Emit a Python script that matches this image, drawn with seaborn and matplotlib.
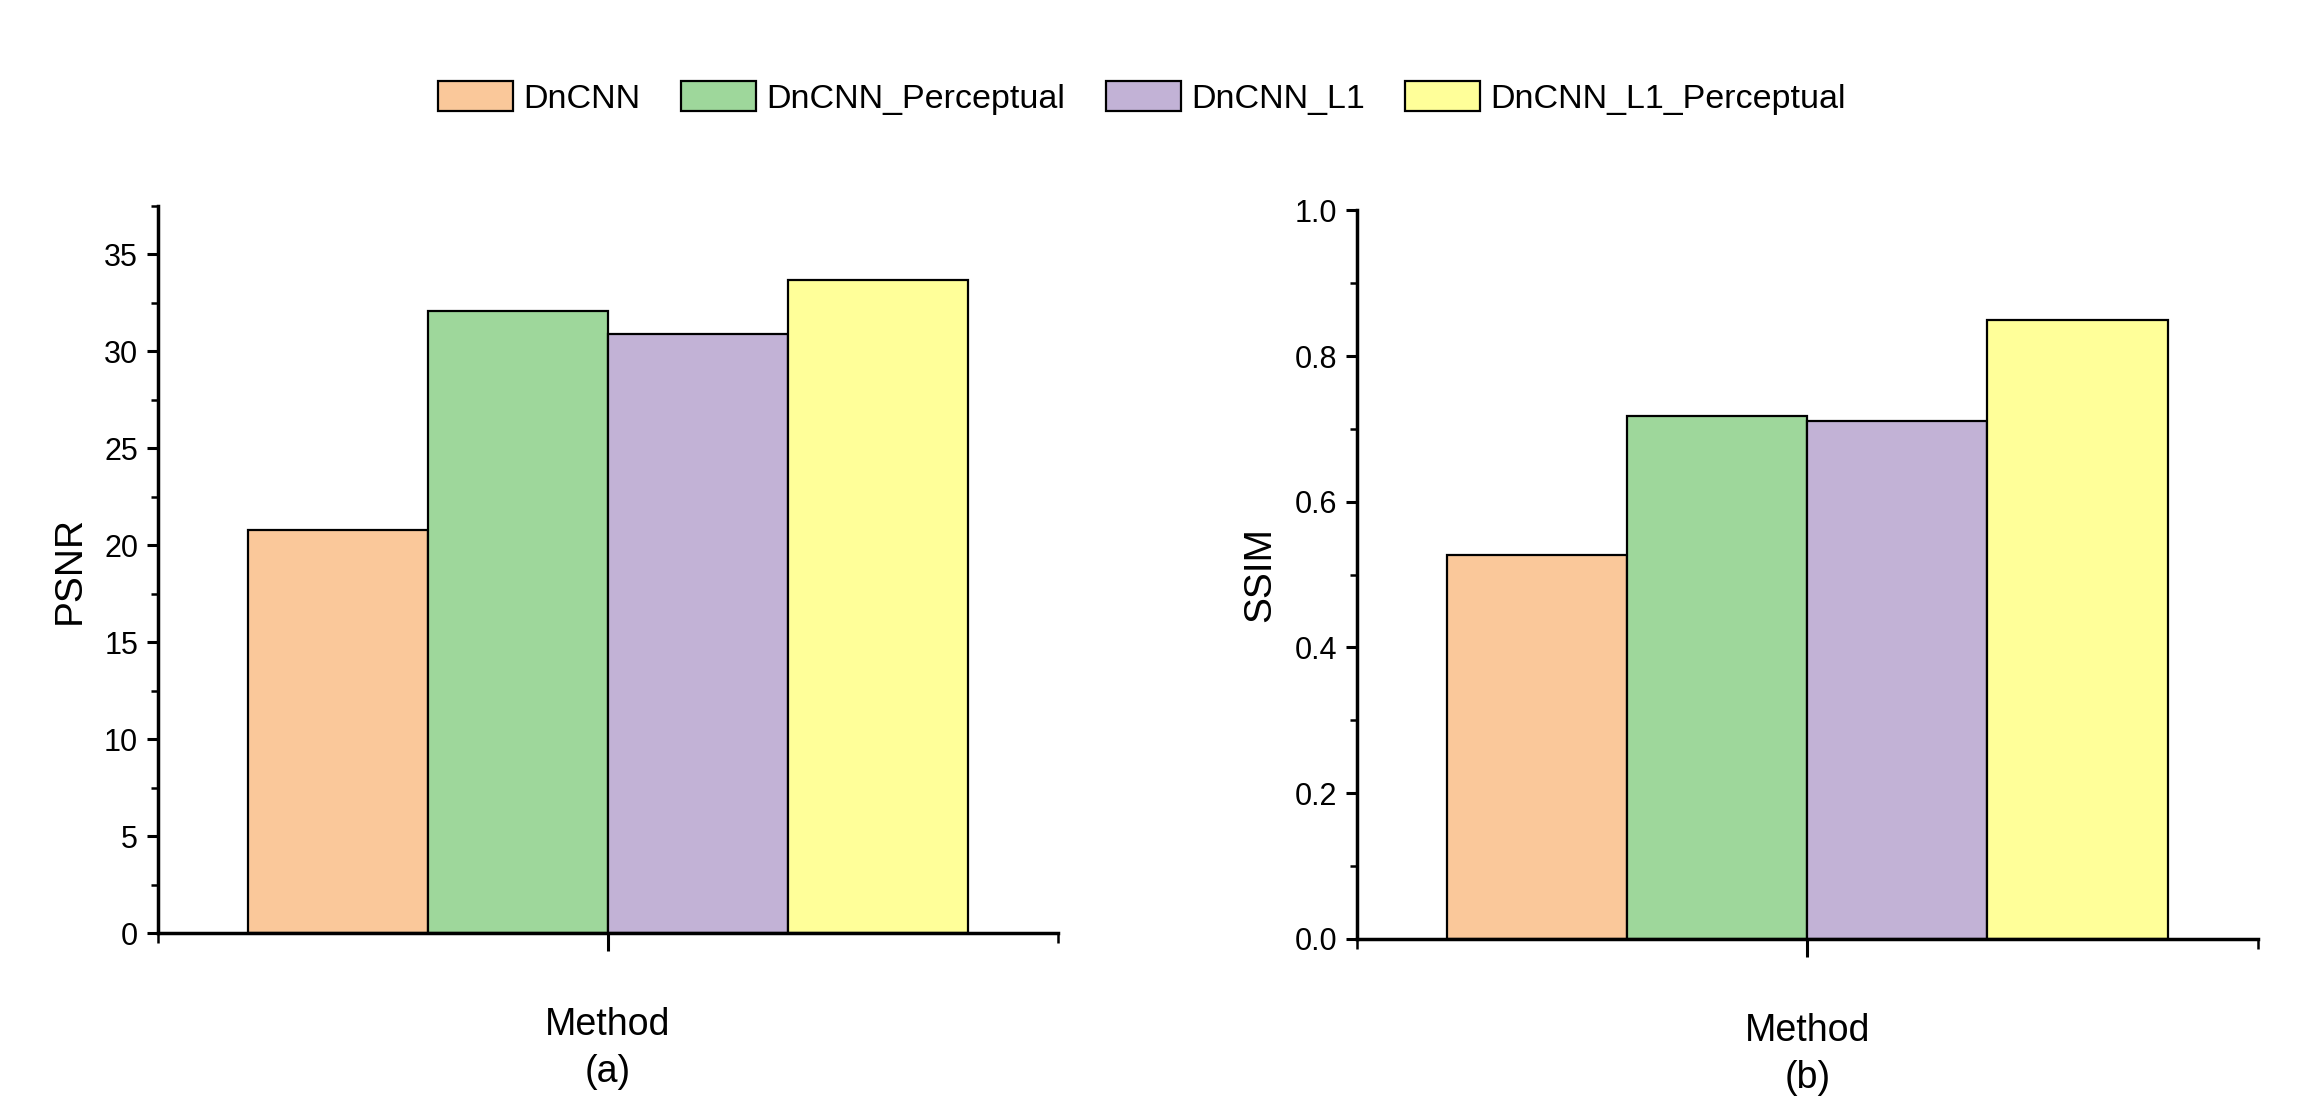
import matplotlib
matplotlib.use("Agg")
import matplotlib.pyplot as plt
import seaborn as sns
import pandas as pd
from matplotlib.ticker import MultipleLocator, FixedLocator

methods = ["DnCNN", "DnCNN_Perceptual", "DnCNN_L1", "DnCNN_L1_Perceptual"]
psnr = [20.8, 32.1, 30.9, 33.7]
ssim = [0.527, 0.718, 0.711, 0.849]
colors = ["#FAC89A", "#9ED79B", "#C2B2D6", "#FFFF99"]
group = "Method"

sns.set_style("ticks")
plt.rcParams['font.family'] = ['Liberation Sans', 'DejaVu Sans']
plt.rcParams.update({"text.color": "black", "axes.labelcolor": "black",
                     "xtick.color": "black", "ytick.color": "black",
                     "axes.edgecolor": "black"})

df_p = pd.DataFrame({"group": [group] * 4, "method": methods, "value": psnr})
df_s = pd.DataFrame({"group": [group] * 4, "method": methods, "value": ssim})

fig = plt.figure(figsize=(23, 11), dpi=100)
ax1 = fig.add_axes([0.0685, 0.1518, 0.3917, 0.6609])
ax2 = fig.add_axes([0.5899, 0.1465, 0.3917, 0.6622])

def draw(ax, df, ylim, major, minor, ylabel, sub):
    sns.barplot(data=df, x="group", y="value", hue="method", hue_order=methods,
                palette=colors, width=0.8, edgecolor="black", linewidth=1.6,
                saturation=1, ax=ax, legend=True)
    ax.set_xlim(-0.5, 0.5)
    ax.set_ylim(*ylim)
    ax.yaxis.set_major_locator(MultipleLocator(major))
    ax.yaxis.set_minor_locator(MultipleLocator(minor))
    ax.xaxis.set_major_locator(FixedLocator([0]))
    ax.xaxis.set_minor_locator(FixedLocator([-0.5, 0.5]))
    ax.set_xticklabels([])
    for s in ["top", "right"]:
        ax.spines[s].set_visible(False)
    for s in ["left", "bottom"]:
        ax.spines[s].set_linewidth(2.5)
        ax.spines[s].set_color("black")
    ax.tick_params(axis="y", which="major", direction="out", length=8, width=2.2,
                   labelsize=22, pad=6, colors="black")
    ax.tick_params(axis="y", which="minor", direction="out", length=5, width=1.8)
    ax.tick_params(axis="x", which="major", direction="out", length=13, width=2.2)
    ax.tick_params(axis="x", which="minor", direction="out", length=7, width=1.8)
    ax.set_ylabel(ylabel, fontsize=28, labelpad=12, color="black")
    ax.set_xlabel("Method\n" + sub, fontsize=27, labelpad=37, linespacing=1.38,
                  color="black")
    ax.grid(False)

draw(ax1, df_p, (0, 37.5), 5, 2.5, "PSNR", "(a)")
ax1.set_yticks([0, 5, 10, 15, 20, 25, 30, 35])
draw(ax2, df_s, (0, 1.0), 0.2, 0.1, "SSIM", "(b)")
ax2.set_yticklabels([f"{v:.1f}" for v in ax2.get_yticks()])

handles, labels = ax1.get_legend_handles_labels()
ax1.get_legend().remove()
ax2.get_legend().remove()
fig.legend(handles, labels, loc="center", bbox_to_anchor=(0.4965, 0.911), ncol=4,
           frameon=False, fontsize=24.5, handlelength=2.2, handleheight=1.0,
           handletextpad=0.3, columnspacing=1.2, labelcolor="black")

fig.savefig("out.png", dpi=100)
